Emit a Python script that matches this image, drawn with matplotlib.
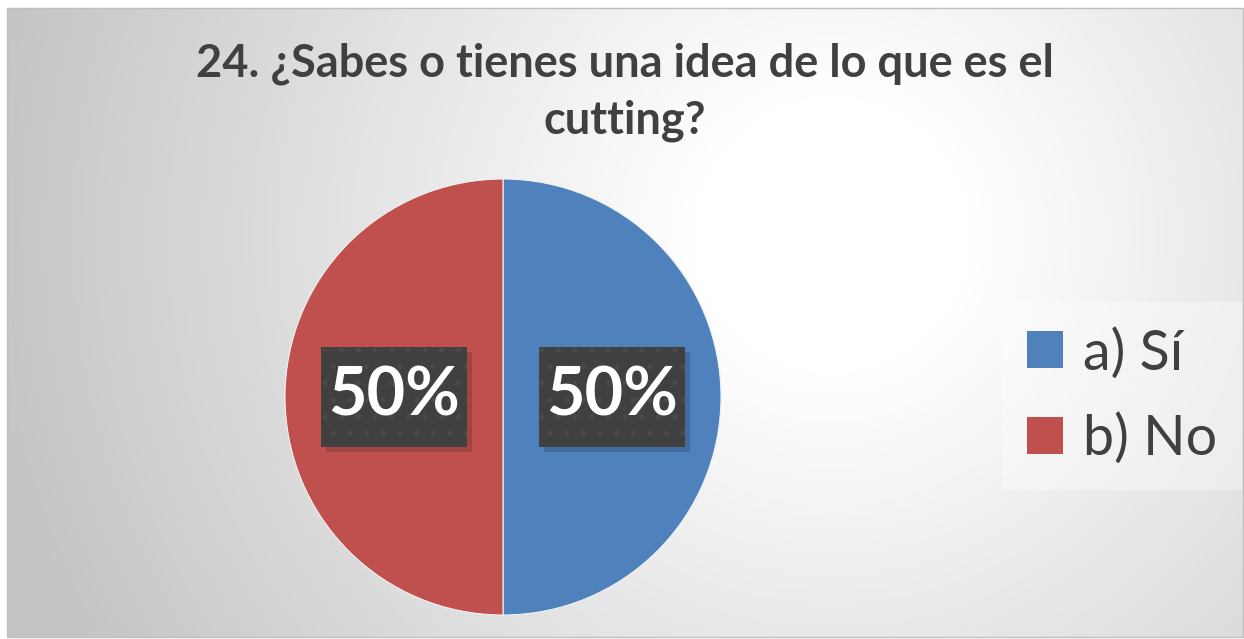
import numpy as np
import matplotlib
matplotlib.use('Agg')
import matplotlib.pyplot as plt
from matplotlib.patches import Patch, Rectangle

# data
categories = ['a) Sí', 'b) No']
values = [50, 50]
colors = ['#4F81BD', '#C0504D']
title = '24. ¿Sabes o tienes una idea de lo que es el\ncutting?'

plt.rcParams['font.family'] = ['Lato', 'DejaVu Sans']
plt.rcParams['hatch.linewidth'] = 1.2
W, H = 1244, 639
fig = plt.figure(figsize=(W / 100, H / 100), dpi=100)

# radial gradient background of chart area
bg = fig.add_axes([0, 0, 1, 1])
bg.set_xlim(0, W)
bg.set_ylim(H, 0)
bg.axis('off')
yy, xx = np.mgrid[0:H, 0:W]
d = np.sqrt((xx - 830.0) ** 2 + (yy - 230.0) ** 2)
t = np.clip((d - 140) / 720.0, 0, 1)
g = 1.0 - 0.23 * t
img = np.dstack([g, g, g])
bg.imshow(img, extent=[7, 1243, 637, 8], aspect='auto', zorder=0)
bg.add_patch(Rectangle((7, 8), 1236, 629, fill=False, ec='#bfbfbf', lw=1, zorder=1))

# title
fig.text(625 / W, 1 - 92 / H, title, ha='center', va='center', fontsize=32.5,
         fontweight='bold', color='#404040', linespacing=1.42)

# pie
r = 218
cx, cy = 503, 397
ax = fig.add_axes([(cx - r) / W, 1 - (cy + r) / H, 2 * r / W, 2 * r / H])
wedges, texts, autotexts = ax.pie(values, colors=colors, startangle=90, counterclock=False,
                                  autopct='%1.0f%%', pctdistance=0.5,
                                  wedgeprops=dict(edgecolor='#f2f2f2', linewidth=0.8))
ax.set_xlim(-1, 1)
ax.set_ylim(-1, 1)
ax.set_aspect('equal')

# dark label boxes behind the percentages (146 x 100 px)
bw, bh = 146, 100
for at in autotexts:
    px, py = ax.transData.transform(at.get_position())
    fx, fy = px / W, py / H
    sh = Rectangle((fx - bw / 2 / W + 5 / W, fy - bh / 2 / H - 5 / H), bw / W, bh / H,
                   transform=fig.transFigure, facecolor='black', alpha=0.16,
                   edgecolor='none', zorder=3)
    bx = Rectangle((fx - bw / 2 / W, fy - bh / 2 / H), bw / W, bh / H,
                   transform=fig.transFigure, facecolor='#404040',
                   edgecolor='#4a4a4a', linewidth=0, hatch='.', zorder=4)
    fig.add_artist(sh)
    fig.add_artist(bx)
    fig.text(fx, fy, at.get_text(), ha='center', va='center',
             fontsize=48, fontweight='bold', color='white', zorder=6)
    at.set_visible(False)

# legend
handles = [Patch(facecolor=c, edgecolor='none') for c in colors]
leg = fig.legend(handles, categories, loc='center left',
                 bbox_to_anchor=(1002 / W, 1 - 396 / H), fontsize=40,
                 handlelength=0.65, handleheight=0.65, handletextpad=0.35,
                 labelspacing=0.6, borderpad=0.45, borderaxespad=0,
                 frameon=True, fancybox=False)
leg.get_frame().set_facecolor('#ffffff')
leg.get_frame().set_alpha(0.35)
leg.get_frame().set_edgecolor('none')
for txt in leg.get_texts():
    txt.set_color('#404040')

fig.savefig('out.png', dpi=100)
